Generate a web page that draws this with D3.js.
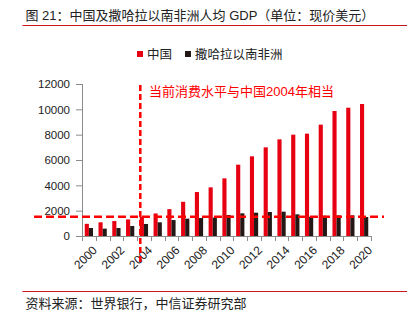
<!DOCTYPE html>
<html><head><meta charset="utf-8">
<script src="https://cdn.jsdelivr.net/npm/d3@7"></script>
<style>
body{margin:0;background:#fff;}
svg{display:block;font-family:"Liberation Sans","Noto Sans CJK SC",Arial,sans-serif;}
</style></head>
<body><svg id="c" width="414" height="322"></svg>
<script>
const years = d3.range(2000, 2021).map(String);
const chinaGDP = [960,1080,1180,1310,1510,1780,2120,2700,3470,3840,4550,5630,6290,7000,7630,8000,8080,8790,9870,10130,10420];
const ssaGDP = [630,580,630,790,950,1080,1260,1370,1420,1450,1660,1790,1840,1895,1920,1710,1520,1600,1630,1630,1500];
const seriesNames = ["中国","撒哈拉以南非洲"];
const seriesColors = ["#e60012","#231815"];
const yTicks = [0,2000,4000,6000,8000,10000,12000];
const xLabels = ["2000","2002","2004","2006","2008","2010","2012","2014","2016","2018","2020"];
const refValue = 1510;       // 中国2004年水平
const refYear = "2004";
const titleText = "图 21：中国及撒哈拉以南非洲人均 GDP（单位：现价美元）";
const noteText = "当前消费水平与中国2004年相当";
const sourceText = "资料来源：世界银行，中信证券研究部";

(function(){
const svg = d3.select("#c");
const pL = 82, pR = 371, pT = 84, pB = 236;
const axisColor = "#8c8c8c";

// title & rules
svg.append("text").attr("x",25.5).attr("y",20).attr("font-size",13).attr("fill","#222").text(titleText);
svg.append("line").attr("x1",22.5).attr("x2",407).attr("y1",25.5).attr("y2",25.5).attr("stroke","#c8161d").attr("stroke-width",1);
svg.append("line").attr("x1",22.5).attr("x2",407).attr("y1",291.5).attr("y2",291.5).attr("stroke","#c8161d").attr("stroke-width",1);
svg.append("text").attr("x",25.5).attr("y",308).attr("font-size",13).attr("fill","#222").text(sourceText);

// legend
const lg = svg.append("g");
const legX = [137, 185];
seriesNames.forEach((n,i)=>{
  lg.append("rect").attr("x",legX[i]).attr("y",51).attr("width",6).attr("height",6).attr("fill",seriesColors[i]);
  lg.append("text").attr("x",legX[i]+10).attr("y",58.5).attr("font-size",12.5).attr("fill","#222").text(n);
});

// scales
const x0 = d3.scaleBand().domain(years).range([pL,pR]).paddingInner(0.4).paddingOuter(0.2);
const x1 = d3.scaleBand().domain(seriesNames).range([0,x0.bandwidth()]);
const y = d3.scaleLinear().domain([0,12000]).range([pB,pT]);

// y axis
const yAxis = d3.axisLeft(y).tickValues(yTicks).tickSize(6).tickPadding(6).tickFormat(d3.format("d"));
const gy = svg.append("g").attr("transform",`translate(${pL},0)`).call(yAxis);
gy.selectAll("path,line").attr("stroke",axisColor);
gy.select(".domain").attr("d",`M0.5,${pT}V${pB}`);
gy.selectAll("text").attr("font-size",11.5).attr("fill","#222").attr("font-family","Liberation Sans, Arial, sans-serif");

// bars
const data = years.map((yr,i)=>({yr, vals:[chinaGDP[i], ssaGDP[i]]}));
const groups = svg.append("g").selectAll("g").data(data).join("g").attr("transform",d=>`translate(${x0(d.yr)},0)`);
groups.selectAll("rect").data(d=>d.vals.map((v,i)=>({v,name:seriesNames[i],i}))).join("rect")
  .attr("x",d=>x1(d.name)).attr("width",x1.bandwidth())
  .attr("y",d=>y(d.v)).attr("height",d=>y(0)-y(d.v)).attr("fill",d=>seriesColors[d.i]);

// x axis with boundary ticks
const step = x0.step();
const gx = svg.append("g");
gx.append("line").attr("x1",pL).attr("x2",pR).attr("y1",pB+0.5).attr("y2",pB+0.5).attr("stroke",axisColor);
d3.range(years.length+1).forEach(i=>{
  const xx = Math.round(pL + i*step)+0.5;
  gx.append("line").attr("x1",xx).attr("x2",xx).attr("y1",pB).attr("y2",pB+5).attr("stroke",axisColor);
});
gx.selectAll("text.xl").data(xLabels).join("text").attr("class","xl")
  .attr("transform",d=>`translate(${x0(d)+x0.bandwidth()/2+3},${pB+9}) rotate(-45)`)
  .attr("text-anchor","end").attr("dy","0.7em").attr("font-size",12).attr("fill","#222").text(d=>d);

// reference lines
svg.append("line").attr("x1",34).attr("x2",384).attr("y1",y(refValue)).attr("y2",y(refValue))
  .attr("stroke","#ff0000").attr("stroke-width",2.5).attr("stroke-dasharray","8,4");
const vx = x0(refYear)+0.5;
svg.append("line").attr("x1",vx).attr("x2",vx).attr("y1",85).attr("y2",262)
  .attr("stroke","#ff0000").attr("stroke-width",2.5).attr("stroke-dasharray","6,3");
svg.append("text").attr("x",149).attr("y",96).attr("font-size",13).attr("fill","#ff0000").text(noteText);
})();
</script></body></html>
